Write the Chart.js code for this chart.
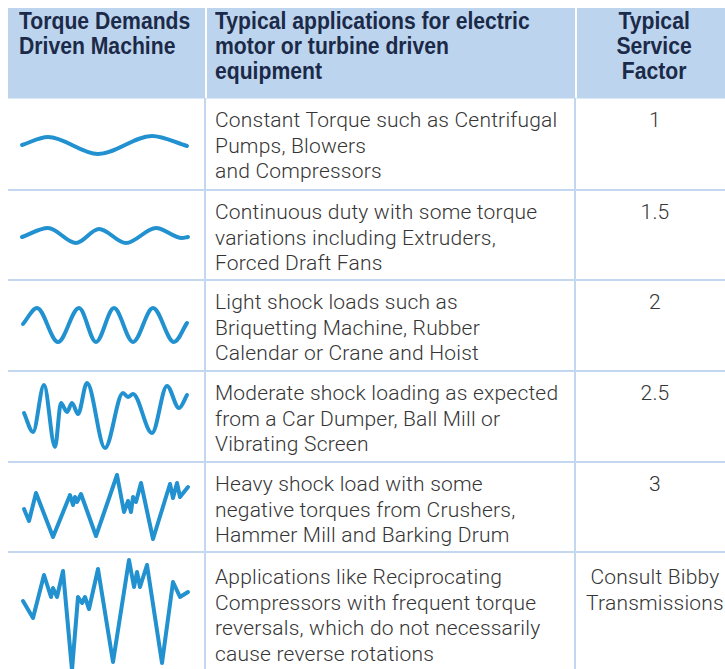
<!DOCTYPE html>
<html>
<head>
<meta charset="utf-8">
<script src="https://cdn.jsdelivr.net/npm/chart.js@4.4.1/dist/chart.umd.min.js"></script>
<style>
  html, body { margin: 0; padding: 0; background: #ffffff; }
  body { width: 725px; height: 669px; overflow: hidden; position: relative; }
  .hdr { position: absolute; left: 8px; top: 8px; width: 740px; height: 90px; background: #bdd4ee; }
  .hdr-sep { position: absolute; top: 8px; width: 2px; height: 90px; background: #ffffff; }
  .hline { position: absolute; left: 8px; width: 740px; height: 2px; background: #c3d8f0; }
  .vline { position: absolute; top: 98px; width: 2px; height: 580px; background: #c3d8f0; }
  .htext { position: absolute; font-family: "Liberation Sans", Arial, sans-serif; font-weight: bold;
           font-size: 23px; line-height: 25px; color: #1b2a48; white-space: nowrap;
           transform: scaleX(0.92); transform-origin: left top; }
  .btext { position: absolute; font-family: Roboto, "Liberation Sans", sans-serif; font-weight: 300;
           font-size: 21px; line-height: 25.5px; letter-spacing: 0.2px; color: #353535; white-space: nowrap; }
  canvas { position: absolute; }
</style>
</head>
<body>
<script>
// ---- data ----
const headerCols = [
  ["Torque Demands", "Driven Machine"],
  ["Typical applications for electric", "motor or turbine driven", "equipment"],
  ["Typical", "Service", "Factor"]
];

const applications = [
  ["Constant Torque such as Centrifugal", "Pumps, Blowers", "and Compressors"],
  ["Continuous duty with some torque", "variations including Extruders,", "Forced Draft Fans"],
  ["Light shock loads such as", "Briquetting Machine, Rubber", "Calendar or Crane and Hoist"],
  ["Moderate shock loading as expected", "from a Car Dumper, Ball Mill or", "Vibrating Screen"],
  ["Heavy shock load with some", "negative torques from Crushers,", "Hammer Mill and Barking Drum"],
  ["Applications like Reciprocating", "Compressors with frequent torque", "reversals, which do not necessarily", "cause reverse rotations"]
];

const serviceFactors = [["1"], ["1.5"], ["2"], ["2.5"], ["3"], ["Consult Bibby", "Transmissions"]];

// torque waveforms: time and torque (relative to mean)
const constantT   = [14, 40, 90, 144, 179];
const constantQ   = [-1, 7, -10, 8, -2];
const continuousT = [14, 40, 68, 91, 118, 148, 174, 180];
const continuousQ = [-2, 7, -8, 6, -8, 7, -3, -2];
const lightT      = [15, 29, 50, 71, 88, 106, 125, 145, 166, 179];
const lightQ      = [1, 17, -17, 17, -17, 17, -17, 17, -17, 2];
const moderateT   = [16, 25, 36, 47, 53, 59, 64, 70, 79, 97, 115, 120, 125, 144, 159, 171, 179];
const moderateQ   = [3, -16, 31, -31, 13, 4, 13, 2, 33, -32, 23, 19, 22, -17, 30, 8, 21];
const heavyT      = [16, 21, 28, 45, 62, 65, 67, 69, 73, 88, 109, 116, 120, 123, 125, 128, 133, 145, 162, 165, 169, 172, 180];
const heavyQ      = [-2, -14, 14, -30, 12, 2, 10, 5, 13, -29, 32, -5, 6, -5, 10, 5, 24, -32, 23, 9, 24, 10, 20];
const reversingT  = [15, 25, 36, 43, 45, 49, 55, 64, 70, 74, 77, 81, 90, 105, 121, 126, 129, 132, 139, 154, 165, 172, 180];
const reversingQ  = [9, -8, 35, 13, 22, 13, 39, -60, 13, 7, 13, 1, 41, -52, 50, 23, 38, 23, 45, -53, 28, 13, 18];

const waveT = [constantT, continuousT, lightT, moderateT, heavyT, reversingT];
const waveQ = [constantQ, continuousQ, lightQ, moderateQ, heavyQ, reversingQ];

// ---- layout ----
const rowTops = [98, 190, 280, 371, 462, 552];
const rowBottoms = [190, 280, 371, 462, 552, 680];
const rowMids = [144, 235, 325, 416, 507, 610];
const textPad = [10, 10, 10, 10, 10, 13];
const smoothRows = [true, true, true, true, false, false];
const colLeft = [8, 205, 575];
const lineColor = "#2191d0";

function add(el, cls, css, html) {
  const d = document.createElement(el);
  if (cls) d.className = cls;
  Object.assign(d.style, css);
  if (html !== undefined) d.innerHTML = html;
  document.body.appendChild(d);
  return d;
}

add("div", "hdr", {});
add("div", "hdr-sep", { left: "205px" });
add("div", "hdr-sep", { left: "575px" });
add("div", "hline", { top: "98px", height: "1px", background: "#dde8f6" });

add("div", "htext", { left: "19px", top: "9px" }, headerCols[0].join("<br>"));
add("div", "htext", { left: "215px", top: "9px" }, headerCols[1].join("<br>"));
add("div", "htext", { left: "575px", width: "172px", top: "9px", textAlign: "center" }, headerCols[2].join("<br>"));

for (let i = 1; i < rowTops.length; i++) {
  add("div", "hline", { top: (rowTops[i] - 1) + "px" });
}
add("div", "vline", { left: "204px" });
add("div", "vline", { left: "574px" });

applications.forEach((lines, i) => {
  add("div", "btext", { left: "215px", top: (rowTops[i] + textPad[i]) + "px" }, lines.join("<br>"));
  add("div", "btext", { left: "577px", width: "156px", top: (rowTops[i] + textPad[i]) + "px", textAlign: "center" },
      serviceFactors[i].join("<br>"));
});

// ---- waveforms ----
waveT.forEach((ts, i) => {
  const top = rowTops[i] + 2;
  const h = rowBottoms[i] - top;
  const cv = add("canvas", null, { left: colLeft[0] + "px", top: top + "px" });
  cv.width = 196;
  cv.height = h;
  new Chart(cv.getContext("2d"), {
    type: "line",
    data: {
      datasets: [{
        data: ts.map((t, k) => ({ x: t, y: waveQ[i][k] })),
        borderColor: lineColor,
        borderWidth: 4,
        pointRadius: 0,
        fill: false,
        borderJoinStyle: "round",
        borderCapStyle: "round",
        cubicInterpolationMode: smoothRows[i] ? "monotone" : "default",
        tension: 0,
        clip: false
      }]
    },
    options: {
      responsive: false,
      animation: false,
      events: [],
      layout: { padding: 0 },
      plugins: { legend: { display: false }, tooltip: { enabled: false } },
      scales: {
        x: { type: "linear", display: false, min: 0, max: 196 },
        y: { display: false, min: rowMids[i] - (top + h), max: rowMids[i] - top }
      }
    }
  });
});
</script>
</body>
</html>
